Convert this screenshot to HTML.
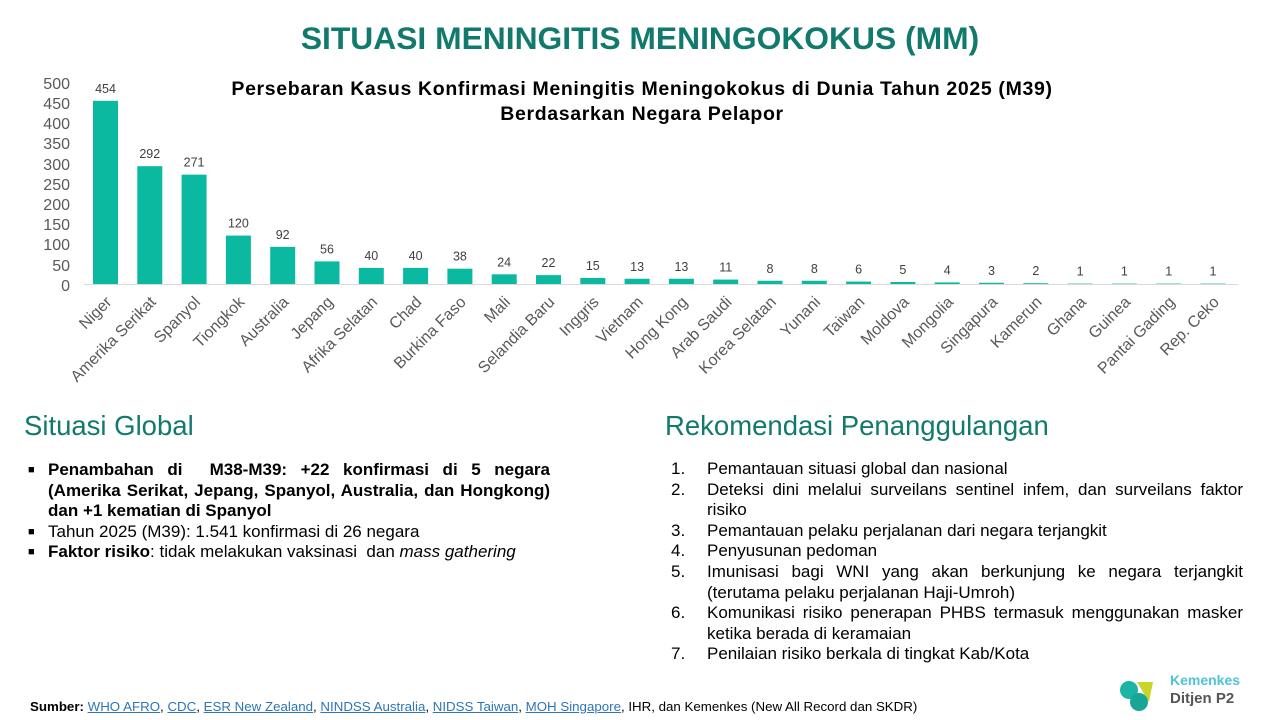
<!DOCTYPE html>
<html><head><meta charset="utf-8"><style>
body{margin:0;width:1280px;height:720px;background:#fff;font-family:"Liberation Sans",sans-serif;position:relative;overflow:hidden}
.abs{position:absolute}
h1{position:absolute;left:0;width:1280px;top:20px;margin:0;text-align:center;font-size:31.8px;color:#117a6c;font-weight:bold}
.h2{font-size:27.5px;color:#117a6c;font-weight:normal}
.body{font-size:17px;line-height:20.6px;color:#000}
</style></head><body>
<h1>SITUASI MENINGITIS MENINGOKOKUS (MM)</h1>
<svg class="abs" style="left:0;top:0" width="1280" height="400">
<g font-family="Liberation Sans" font-size="16" fill="#595959" text-anchor="end">
<text x="70" y="89">500</text><text x="70" y="109">450</text><text x="70" y="129">400</text><text x="70" y="149">350</text><text x="70" y="170">300</text><text x="70" y="190">250</text><text x="70" y="210">200</text><text x="70" y="230">150</text><text x="70" y="250">100</text><text x="70" y="271">50</text><text x="70" y="291">0</text>
</g>
<line x1="84" y1="284.5" x2="1238" y2="284.5" stroke="#d9d9d9"/>
<text x="642" y="95" text-anchor="middle" font-size="19.5" letter-spacing="0.65" font-weight="bold">Persebaran Kasus Konfirmasi Meningitis Meningokokus di Dunia Tahun 2025 (M39)</text>
<text x="642" y="120" text-anchor="middle" font-size="19.5" letter-spacing="0.65" font-weight="bold">Berdasarkan Negara Pelapor</text>
<g id="bars"></g>
</svg>
<script>
var d=[["Niger",454],["Amerika Serikat",292],["Spanyol",271],["Tiongkok",120],["Australia",92],["Jepang",56],["Afrika Selatan",40],["Chad",40],["Burkina Faso",38],["Mali",24],["Selandia Baru",22],["Inggris",15],["Vietnam",13],["Hong Kong",13],["Arab Saudi",11],["Korea Selatan",8],["Yunani",8],["Taiwan",6],["Moldova",5],["Mongolia",4],["Singapura",3],["Kamerun",2],["Ghana",1],["Guinea",1],["Pantai Gading",1],["Rep. Ceko",1]];
var s="";d.forEach(function(e,i){var c=105.5+i*44.3,h=e[1]*0.4035,t=284-h;
s+='<rect x="'+(c-12.5)+'" y="'+t+'" width="25" height="'+h+'" fill="#0ab9a0"/>';
s+='<text x="'+c+'" y="'+(t-8)+'" text-anchor="middle" font-size="12.5" fill="#404040">'+e[1]+'</text>';
s+='<text transform="translate('+(c+7)+',303) rotate(-45)" text-anchor="end" font-size="16" fill="#595959">'+e[0]+'</text>';});
document.getElementById("bars").innerHTML=s;
</script>
<div class="abs h2" style="left:24px;top:410px">Situasi Global</div>
<div class="abs h2" style="left:665px;top:410px">Rekomendasi Penanggulangan</div>
<div class="abs body" style="left:28px;top:460px;width:522px">
<div style="display:flex"><span style="width:20px;font-size:11px;line-height:20px">■</span><div style="flex:1;text-align:justify"><b>Penambahan di &nbsp;M38-M39: +22 konfirmasi di 5 negara (Amerika Serikat, Jepang, Spanyol, Australia, dan Hongkong) dan +1 kematian di Spanyol</b></div></div>
<div style="display:flex"><span style="width:20px;font-size:11px;line-height:20px">■</span><div>Tahun 2025 (M39): 1.541 konfirmasi di 26 negara</div></div>
<div style="display:flex"><span style="width:20px;font-size:11px;line-height:20px">■</span><div><b>Faktor risiko</b>: tidak melakukan vaksinasi &nbsp;dan <i>mass gathering</i></div></div>
</div>
<div class="abs body" style="left:671px;top:459px;width:572px">
<div style="display:flex"><span style="width:36px">1.</span><div style="flex:1;text-align:justify">Pemantauan situasi global dan nasional</div></div>
<div style="display:flex"><span style="width:36px">2.</span><div style="flex:1;text-align:justify">Deteksi dini melalui surveilans sentinel infem, dan surveilans faktor risiko</div></div>
<div style="display:flex"><span style="width:36px">3.</span><div style="flex:1">Pemantauan pelaku perjalanan dari negara terjangkit</div></div>
<div style="display:flex"><span style="width:36px">4.</span><div style="flex:1">Penyusunan pedoman</div></div>
<div style="display:flex"><span style="width:36px">5.</span><div style="flex:1;text-align:justify">Imunisasi bagi WNI yang akan berkunjung ke negara terjangkit (terutama pelaku perjalanan Haji-Umroh)</div></div>
<div style="display:flex"><span style="width:36px">6.</span><div style="flex:1;text-align:justify">Komunikasi risiko penerapan PHBS termasuk menggunakan masker ketika berada di keramaian</div></div>
<div style="display:flex"><span style="width:36px">7.</span><div style="flex:1">Penilaian risiko berkala di tingkat Kab/Kota</div></div>
</div>
<div class="abs" style="left:30px;top:699px;font-size:13.3px;color:#000"><b>Sumber:</b> <span style="color:#2e75b6;text-decoration:underline">WHO AFRO</span>, <span style="color:#2e75b6;text-decoration:underline">CDC</span>, <span style="color:#2e75b6;text-decoration:underline">ESR New Zealand</span>, <span style="color:#2e75b6;text-decoration:underline">NINDSS Australia</span>, <span style="color:#2e75b6;text-decoration:underline">NIDSS Taiwan</span>, <span style="color:#2e75b6;text-decoration:underline">MOH Singapore</span>, IHR, dan Kemenkes (New All Record dan SKDR)</div>
<svg class="abs" style="left:1115px;top:672px" width="60" height="45">
<circle cx="14" cy="18" r="9" fill="#1bb5a5"/><path d="M22 10 L38 10 L34 30 Z" fill="#c8d62a"/><circle cx="24" cy="30" r="9" fill="#17a596"/>
</svg>
<div class="abs" style="left:1170px;top:672px;font-size:14px;font-weight:bold;color:#4fc3d6">Kemenkes</div>
<div class="abs" style="left:1170px;top:690px;font-size:15px;font-weight:bold;color:#555">Ditjen P2</div>
</body></html>
